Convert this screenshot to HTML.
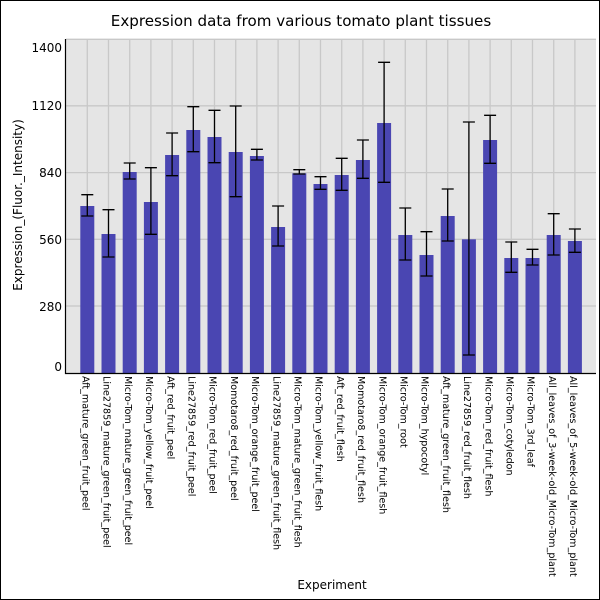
<!DOCTYPE html>
<html><head><meta charset="utf-8"><style>body{margin:0;background:#fff}svg{display:block}</style></head><body>
<svg width="600" height="600" xmlns="http://www.w3.org/2000/svg" font-family="DejaVu Sans, Liberation Sans, sans-serif">
<rect x="0.5" y="0.5" width="599" height="599" fill="#fff" stroke="#000"/>
<text x="301" y="26" font-size="15.1" text-anchor="middle">Expression data from various tomato plant tissues</text>
<rect x="66" y="39" width="530" height="334" fill="#e5e5e5"/>
<g stroke="#c8c8c8" stroke-width="1.3">
<line x1="66" x2="596" y1="39.3" y2="39.3"/><line x1="66" x2="596" y1="105.8" y2="105.8"/><line x1="66" x2="596" y1="172.6" y2="172.6"/><line x1="66" x2="596" y1="239.3" y2="239.3"/><line x1="66" x2="596" y1="306" y2="306"/>
<line y1="39" y2="373" x1="87.3" x2="87.3"/><line y1="39" y2="373" x1="108.5" x2="108.5"/><line y1="39" y2="373" x1="129.7" x2="129.7"/><line y1="39" y2="373" x1="150.9" x2="150.9"/><line y1="39" y2="373" x1="172.1" x2="172.1"/><line y1="39" y2="373" x1="193.3" x2="193.3"/><line y1="39" y2="373" x1="214.5" x2="214.5"/><line y1="39" y2="373" x1="235.7" x2="235.7"/><line y1="39" y2="373" x1="256.9" x2="256.9"/><line y1="39" y2="373" x1="278.1" x2="278.1"/><line y1="39" y2="373" x1="299.3" x2="299.3"/><line y1="39" y2="373" x1="320.5" x2="320.5"/><line y1="39" y2="373" x1="341.7" x2="341.7"/><line y1="39" y2="373" x1="362.9" x2="362.9"/><line y1="39" y2="373" x1="384.1" x2="384.1"/><line y1="39" y2="373" x1="405.3" x2="405.3"/><line y1="39" y2="373" x1="426.5" x2="426.5"/><line y1="39" y2="373" x1="447.7" x2="447.7"/><line y1="39" y2="373" x1="468.9" x2="468.9"/><line y1="39" y2="373" x1="490.1" x2="490.1"/><line y1="39" y2="373" x1="511.3" x2="511.3"/><line y1="39" y2="373" x1="532.5" x2="532.5"/><line y1="39" y2="373" x1="553.7" x2="553.7"/><line y1="39" y2="373" x1="574.9" x2="574.9"/>
</g>
<g fill="#4a46b2">
<rect x="80.3" y="206" width="14" height="167"/><rect x="101.5" y="234" width="14" height="139"/><rect x="122.7" y="172" width="14" height="201"/><rect x="143.9" y="202" width="14" height="171"/><rect x="165.1" y="155" width="14" height="218"/><rect x="186.3" y="130" width="14" height="243"/><rect x="207.5" y="137" width="14" height="236"/><rect x="228.7" y="152" width="14" height="221"/><rect x="249.9" y="156" width="14" height="217"/><rect x="271.1" y="227" width="14" height="146"/><rect x="292.3" y="173.3" width="14" height="199.7"/><rect x="313.5" y="184" width="14" height="189"/><rect x="334.7" y="175" width="14" height="198"/><rect x="355.9" y="160" width="14" height="213"/><rect x="377.1" y="123" width="14" height="250"/><rect x="398.3" y="235" width="14" height="138"/><rect x="419.5" y="255" width="14" height="118"/><rect x="440.7" y="216" width="14" height="157"/><rect x="461.9" y="239.3" width="14" height="133.7"/><rect x="483.1" y="140" width="14" height="233"/><rect x="504.3" y="258" width="14" height="115"/><rect x="525.5" y="258" width="14" height="115"/><rect x="546.7" y="235" width="14" height="138"/><rect x="567.9" y="241" width="14" height="132"/>
</g>
<g stroke="#000" stroke-width="1.3" fill="none">
<path d="M87.3 194.7V216M81.3 194.7h12M81.3 216h12"/>
<path d="M108.5 209.7V257M102.5 209.7h12M102.5 257h12"/>
<path d="M129.7 163V179M123.7 163h12M123.7 179h12"/>
<path d="M150.9 167.7V234.3M144.9 167.7h12M144.9 234.3h12"/>
<path d="M172.1 133V175.7M166.1 133h12M166.1 175.7h12"/>
<path d="M193.3 106.7V151.7M187.3 106.7h12M187.3 151.7h12"/>
<path d="M214.5 110.3V162.7M208.5 110.3h12M208.5 162.7h12"/>
<path d="M235.7 106V196.7M229.7 106h12M229.7 196.7h12"/>
<path d="M256.9 149.3V160M250.9 149.3h12M250.9 160h12"/>
<path d="M278.1 206V246M272.1 206h12M272.1 246h12"/>
<path d="M299.3 169.7V174M293.3 169.7h12M293.3 174h12"/>
<path d="M320.5 176.7V189.3M314.5 176.7h12M314.5 189.3h12"/>
<path d="M341.7 158.3V190.3M335.7 158.3h12M335.7 190.3h12"/>
<path d="M362.9 140V178.3M356.9 140h12M356.9 178.3h12"/>
<path d="M384.1 62.3V182.3M378.1 62.3h12M378.1 182.3h12"/>
<path d="M405.3 208V260M399.3 208h12M399.3 260h12"/>
<path d="M426.5 231.7V276M420.5 231.7h12M420.5 276h12"/>
<path d="M447.7 189V241M441.7 189h12M441.7 241h12"/>
<path d="M468.9 122V355M462.9 122h12M462.9 355h12"/>
<path d="M490.1 115.3V163.3M484.1 115.3h12M484.1 163.3h12"/>
<path d="M511.3 242V272.3M505.3 242h12M505.3 272.3h12"/>
<path d="M532.5 249.3V265M526.5 249.3h12M526.5 265h12"/>
<path d="M553.7 213.7V255M547.7 213.7h12M547.7 255h12"/>
<path d="M574.9 229V252.3M568.9 229h12M568.9 252.3h12"/>
</g>
<path d="M65.5 39V373.5H596" stroke="#000" stroke-width="1.2" fill="none"/>
<g font-size="12" text-anchor="end">
<text x="62" y="52">1400</text><text x="62" y="110">1120</text><text x="62" y="177">840</text><text x="62" y="244">560</text><text x="62" y="311">280</text><text x="62" y="371">0</text>
</g>
<text transform="translate(22,205) rotate(-90)" font-size="12" text-anchor="middle">Expression_(Fluor._Intensity)</text>
<text x="332" y="589" font-size="12" text-anchor="middle">Experiment</text>
<g font-size="9.55">
<text transform="translate(82.5,376) rotate(90)">Aft_mature_green_fruit_peel</text>
<text transform="translate(103.7,376) rotate(90)">Line27859_mature_green_fruit_peel</text>
<text transform="translate(124.9,376) rotate(90)">Micro-Tom_mature_green_fruit_peel</text>
<text transform="translate(146.1,376) rotate(90)">Micro-Tom_yellow_fruit_peel</text>
<text transform="translate(167.3,376) rotate(90)">Aft_red_fruit_peel</text>
<text transform="translate(188.5,376) rotate(90)">Line27859_red_fruit_peel</text>
<text transform="translate(209.7,376) rotate(90)">Micro-Tom_red_fruit_peel</text>
<text transform="translate(230.9,376) rotate(90)">Momotaro8_red_fruit_peel</text>
<text transform="translate(252.1,376) rotate(90)">Micro-Tom_orange_fruit_peel</text>
<text transform="translate(273.3,376) rotate(90)">Line27859_mature_green_fruit_flesh</text>
<text transform="translate(294.5,376) rotate(90)">Micro-Tom_mature_green_fruit_flesh</text>
<text transform="translate(315.7,376) rotate(90)">Micro-Tom_yellow_fruit_flesh</text>
<text transform="translate(336.9,376) rotate(90)">Aft_red_fruit_flesh</text>
<text transform="translate(358.1,376) rotate(90)">Momotaro8_red_fruit_flesh</text>
<text transform="translate(379.3,376) rotate(90)">Micro-Tom_orange_fruit_flesh</text>
<text transform="translate(400.5,376) rotate(90)">Micro-Tom_root</text>
<text transform="translate(421.7,376) rotate(90)">Micro-Tom_hypocotyl</text>
<text transform="translate(442.9,376) rotate(90)">Aft_mature_green_fruit_flesh</text>
<text transform="translate(464.1,376) rotate(90)">Line27859_red_fruit_flesh</text>
<text transform="translate(485.3,376) rotate(90)">Micro-Tom_red_fruit_flesh</text>
<text transform="translate(506.5,376) rotate(90)">Micro-Tom_cotyledon</text>
<text transform="translate(527.7,376) rotate(90)">Micro-Tom_3rd_leaf</text>
<text transform="translate(548.9,376) rotate(90)">All_leaves_of_3-week-old_Micro-Tom_plant</text>
<text transform="translate(570.1,376) rotate(90)">All_leaves_of_5-week-old_Micro-Tom_plant</text>
</g>
</svg>
</body></html>
